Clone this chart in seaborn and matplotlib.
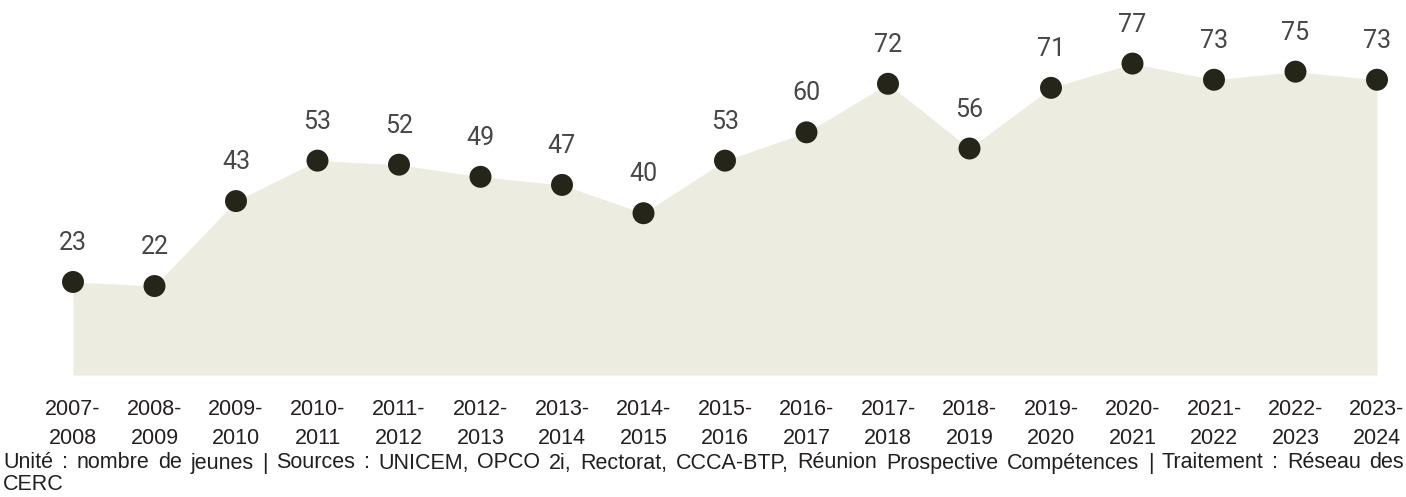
import matplotlib
matplotlib.use("Agg")
import matplotlib.pyplot as plt
import seaborn as sns
import pandas as pd

# values
periods = ["2007-\n2008", "2008-\n2009", "2009-\n2010", "2010-\n2011", "2011-\n2012",
           "2012-\n2013", "2013-\n2014", "2014-\n2015", "2015-\n2016", "2016-\n2017",
           "2017-\n2018", "2018-\n2019", "2019-\n2020", "2020-\n2021", "2021-\n2022",
           "2022-\n2023", "2023-\n2024"]
jeunes = [23, 22, 43, 53, 52, 49, 47, 40, 53, 60, 72, 56, 71, 77, 73, 75, 73]

footer1 = ("Unité : nombre de jeunes | Sources : UNICEM, OPCO 2i, Rectorat, CCCA-BTP, "
           "Réunion Prospective Compétences | Traitement : Réseau des")
footer2 = "CERC"

df = pd.DataFrame({"x": range(len(jeunes)), "y": jeunes})

sns.set_style("white")
plt.rcParams["font.family"] = ["Liberation Sans", "DejaVu Sans"]

W, H = 1406, 497
fig = plt.figure(figsize=(W / 100, H / 100), dpi=100)
ax = fig.add_axes([73 / W, 122 / H, (1377 - 73) / W, 364 / H])

ax.fill_between(df["x"], df["y"], 0, color="#ECECE0", linewidth=0, zorder=1)
sns.scatterplot(data=df, x="x", y="y", ax=ax, s=250, color="#25251A",
                edgecolor="none", zorder=3, legend=False)

for xi, yi in zip(df["x"], df["y"]):
    ax.annotate(str(yi), (xi, yi), xytext=(0, 28), textcoords="offset points",
                ha="center", va="center", fontsize=18, color="#474747",
                family=["Roboto", "DejaVu Sans"])

ax.set_xlim(0, len(jeunes) - 1)
ax.set_ylim(0, 90)
ax.set_xticks(range(len(periods)))
ax.set_xticklabels(periods, fontsize=15.5, color="#231F20", linespacing=1.5)
ax.tick_params(axis="x", length=0, pad=17)
ax.set_yticks([])
ax.set_xlabel("")
ax.set_ylabel("")
for s in ax.spines.values():
    s.set_visible(False)
for c in ax.collections:
    c.set_clip_on(False)

# footer: first line justified across the full width
renderer = fig.canvas.get_renderer()
words = footer1.split(" ")
y1 = 1 - 463 / H
arts = [fig.text(0, y1, w, fontsize=15.5, color="#231F20", va="center", ha="left")
        for w in words]
widths = [a.get_window_extent(renderer).width for a in arts]
left, right = 3, 1404
gap = (right - left - sum(widths)) / (len(words) - 1)
x = left
for a, w in zip(arts, widths):
    a.set_x(x / W)
    x += w + gap

fig.text(3 / W, 1 - 485 / H, footer2, fontsize=15.5, color="#231F20", va="center", ha="left")

fig.savefig("out.png", dpi=100)
